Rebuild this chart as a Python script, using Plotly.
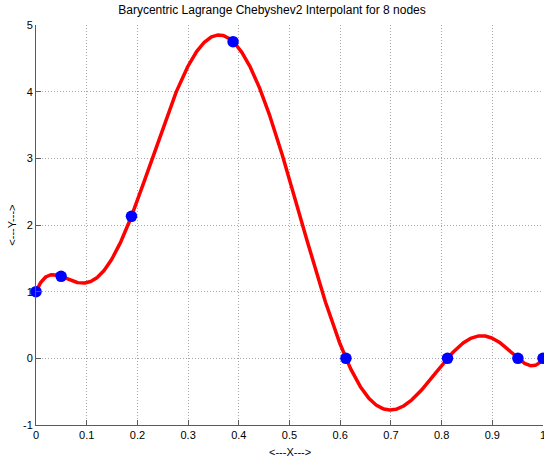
import numpy as np
import plotly.graph_objects as go

# Data
node_x = [0.0, 0.0495, 0.1883, 0.3887, 0.6113, 0.8117, 0.9505, 1.0]
node_y = [1.0, 1.23, 2.13, 4.75, 0.0, 0.0, 0.0, 0.0]
x_ticks = [0, 0.1, 0.2, 0.3, 0.4, 0.5, 0.6, 0.7, 0.8, 0.9, 1]
x_tick_labels = ["0", "0.1", "0.2", "0.3", "0.4", "0.5", "0.6", "0.7", "0.8", "0.9", "1"]
y_ticks = [-1, 0, 1, 2, 3, 4, 5]
y_tick_labels = ["-1", "0", "1", "2", "3", "4", "5"]

# Barycentric Lagrange interpolant of the nodes (Chebyshev2 weights)
n = len(node_x)
xn = np.array(node_x)
yn = np.array(node_y)
w = np.array([(-1.0) ** j for j in range(n)])
w[0] *= 0.5
w[-1] *= 0.5
xs = np.linspace(0, 1, 801)
ys = []
for xv in xs:
    d = xv - xn
    k = np.where(np.abs(d) < 1e-14)[0]
    if len(k):
        ys.append(yn[k[0]])
    else:
        t = w / d
        ys.append(np.sum(t * yn) / np.sum(t))

fig = go.Figure()
fig.add_trace(go.Scatter(x=xs, y=ys, mode="lines", cliponaxis=False,
                         line=dict(color="#ff0000", width=3.5), hoverinfo="skip"))
fig.add_trace(go.Scatter(x=node_x, y=node_y, mode="markers", cliponaxis=False,
                         marker=dict(color="#0000ff", size=11.5)))

font = "Liberation Sans, Arial, Helvetica, sans-serif"
axis_common = dict(
    showgrid=True, gridcolor="#a8a8a8", griddash="1px,2px", gridwidth=1,
    zeroline=False, showline=True, linecolor="#5a5a5a", linewidth=1,
    ticks="inside", ticklen=5, tickcolor="#5a5a5a", automargin=False,
    ticklabeloverflow="allow",
    tickfont=dict(family=font, size=11, color="#000000"),
)
fig.update_xaxes(range=[0, 1], tickvals=x_ticks, ticktext=x_tick_labels, **axis_common)
fig.update_yaxes(range=[-1, 5], tickvals=y_ticks, ticktext=y_tick_labels, **axis_common)
fig.update_layout(
    width=544, height=458,
    margin=dict(l=36, r=1, t=25, b=33),
    paper_bgcolor="white", plot_bgcolor="white",
    showlegend=False,
    title=dict(text="Barycentric Lagrange Chebyshev2 Interpolant for 8 nodes",
               x=0.5, xanchor="center", y=0.978, yanchor="middle",
               font=dict(family=font, size=12, color="#000"), automargin=False),
    annotations=[
        dict(text="&lt;---X---&gt;", xref="paper", yref="paper", x=0.5, y=-0.068,
             xanchor="center", yanchor="middle", showarrow=False,
             font=dict(family=font, size=11, color="#000")),
        dict(text="&lt;---Y---&gt;", xref="paper", yref="paper", x=-0.048, y=0.5,
             xanchor="center", yanchor="middle", showarrow=False, textangle=-90,
             font=dict(family=font, size=11, color="#000")),
    ],
)
fig.write_html("out.html", config={"displayModeBar": False},
               post_script="document.body.style.margin='0';document.body.style.overflow='hidden';")
